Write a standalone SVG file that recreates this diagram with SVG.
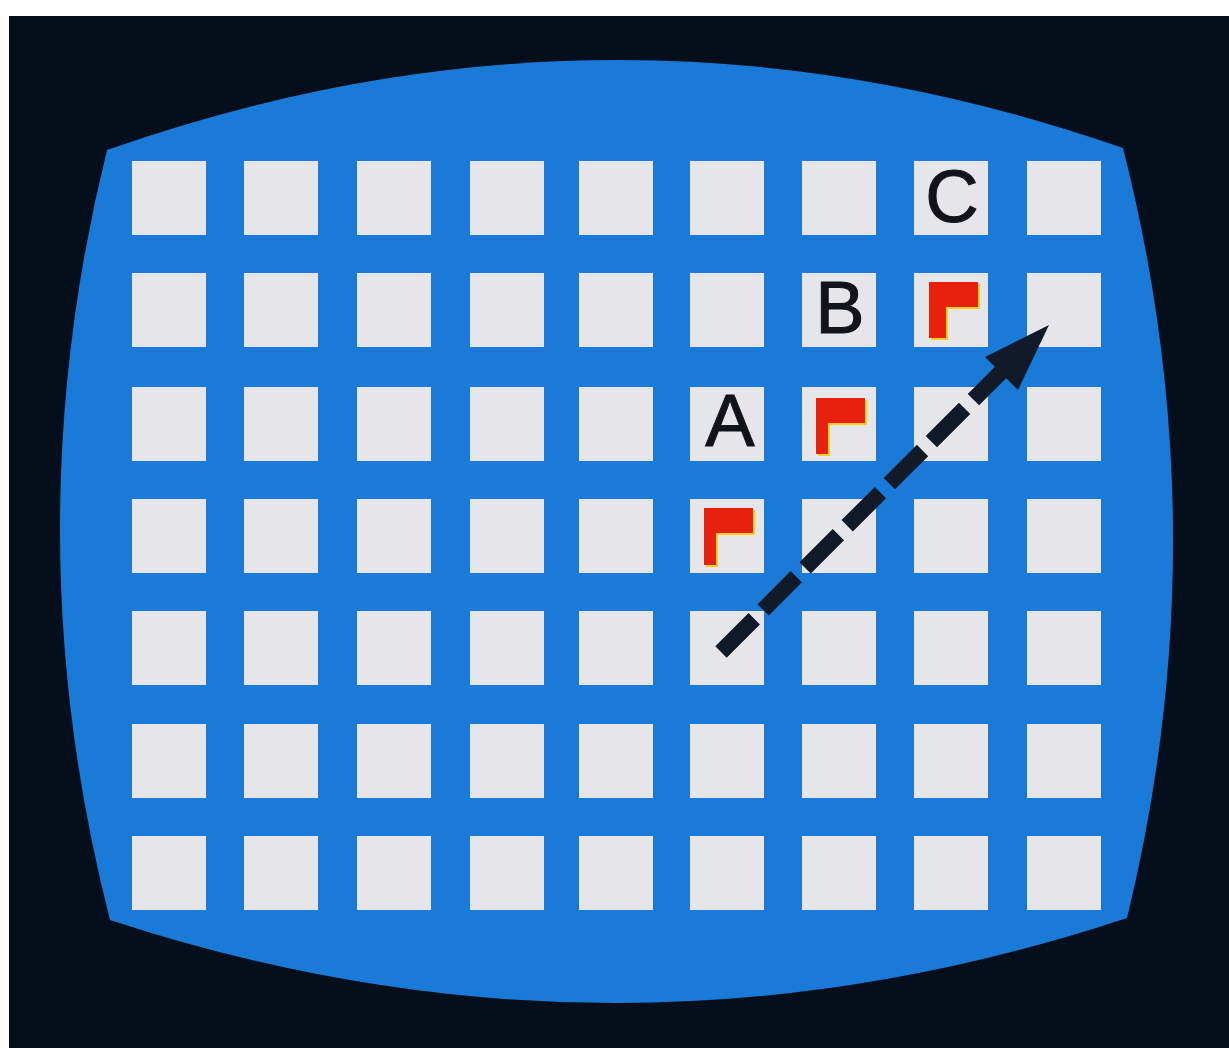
<svg xmlns="http://www.w3.org/2000/svg" width="1229" height="1048" viewBox="0 0 1229 1048">
  <defs>
    <style>
      .sq { fill: #e5e5ea; }
      .lbl { font-family: "Liberation Sans", Arial, sans-serif; font-size: 74px; fill: #111318; stroke: #111318; stroke-width: 1; text-anchor: middle; }
      .red { fill: #e8200e; }
      .yel { fill: #f4d21c; }
    </style>
    <rect id="cell" width="74" height="74" class="sq"/>
  </defs>
  <rect x="0" y="0" width="1229" height="1048" fill="#ffffff"/>
  <rect x="9" y="16" width="1220" height="1032" fill="#050f1c"/>
  <g id="screen">
    <path d="M107,150 Q615,-29 1123,148 Q1221,533 1127,918 Q618,1087 110,920 Q11.5,535 107,150 Z" fill="#1a7ad8"/>
  </g>
  <g id="grid">
    <g id="r1">
      <use href="#cell" x="132" y="161"/><use href="#cell" x="244" y="161"/><use href="#cell" x="357" y="161"/>
      <use href="#cell" x="470" y="161"/><use href="#cell" x="579" y="161"/><use href="#cell" x="690" y="161"/>
      <use href="#cell" x="802" y="161"/><use href="#cell" x="914" y="161"/><use href="#cell" x="1027" y="161"/>
    </g>
    <g id="r2">
      <use href="#cell" x="132" y="273"/><use href="#cell" x="244" y="273"/><use href="#cell" x="357" y="273"/>
      <use href="#cell" x="470" y="273"/><use href="#cell" x="579" y="273"/><use href="#cell" x="690" y="273"/>
      <use href="#cell" x="802" y="273"/><use href="#cell" x="914" y="273"/><use href="#cell" x="1027" y="273"/>
    </g>
    <g id="r3">
      <use href="#cell" x="132" y="387"/><use href="#cell" x="244" y="387"/><use href="#cell" x="357" y="387"/>
      <use href="#cell" x="470" y="387"/><use href="#cell" x="579" y="387"/><use href="#cell" x="690" y="387"/>
      <use href="#cell" x="802" y="387"/><use href="#cell" x="914" y="387"/><use href="#cell" x="1027" y="387"/>
    </g>
    <g id="r4">
      <use href="#cell" x="132" y="499"/><use href="#cell" x="244" y="499"/><use href="#cell" x="357" y="499"/>
      <use href="#cell" x="470" y="499"/><use href="#cell" x="579" y="499"/><use href="#cell" x="690" y="499"/>
      <use href="#cell" x="802" y="499"/><use href="#cell" x="914" y="499"/><use href="#cell" x="1027" y="499"/>
    </g>
    <g id="r5">
      <use href="#cell" x="132" y="611"/><use href="#cell" x="244" y="611"/><use href="#cell" x="357" y="611"/>
      <use href="#cell" x="470" y="611"/><use href="#cell" x="579" y="611"/><use href="#cell" x="690" y="611"/>
      <use href="#cell" x="802" y="611"/><use href="#cell" x="914" y="611"/><use href="#cell" x="1027" y="611"/>
    </g>
    <g id="r6">
      <use href="#cell" x="132" y="724"/><use href="#cell" x="244" y="724"/><use href="#cell" x="357" y="724"/>
      <use href="#cell" x="470" y="724"/><use href="#cell" x="579" y="724"/><use href="#cell" x="690" y="724"/>
      <use href="#cell" x="802" y="724"/><use href="#cell" x="914" y="724"/><use href="#cell" x="1027" y="724"/>
    </g>
    <g id="r7">
      <use href="#cell" x="132" y="836"/><use href="#cell" x="244" y="836"/><use href="#cell" x="357" y="836"/>
      <use href="#cell" x="470" y="836"/><use href="#cell" x="579" y="836"/><use href="#cell" x="690" y="836"/>
      <use href="#cell" x="802" y="836"/><use href="#cell" x="914" y="836"/><use href="#cell" x="1027" y="836"/>
    </g>
  </g>
  <g id="labelA"><text class="lbl" x="730" y="446">A</text></g>
  <g id="labelB"><text class="lbl" x="840" y="333">B</text></g>
  <g id="labelC"><text class="lbl" x="952" y="222">C</text></g>
  <g id="markA">
    <path class="yel" d="M706,510 h49 v25 h-37 v32 h-12 Z"/>
    <path class="red" d="M704,508 h49 v25 h-37 v32 h-12 Z"/>
  </g>
  <g id="markB">
    <path class="yel" d="M818,400 h49 v25 h-37 v31 h-12 Z"/>
    <path class="red" d="M816,398 h49 v25 h-37 v31 h-12 Z"/>
  </g>
  <g id="markC">
    <path class="yel" d="M931,284 h49 v25 h-32 v31 h-17 Z"/>
    <path class="red" d="M929,282 h49 v25 h-32 v31 h-17 Z"/>
  </g>
  <g id="connectors">
    <line x1="721" y1="652" x2="1004" y2="369" stroke="#101a28" stroke-width="16" stroke-dasharray="47 12.5"/>
    <polygon points="1049,325 1018,390 985,357" fill="#101a28"/>
  </g>
</svg>
